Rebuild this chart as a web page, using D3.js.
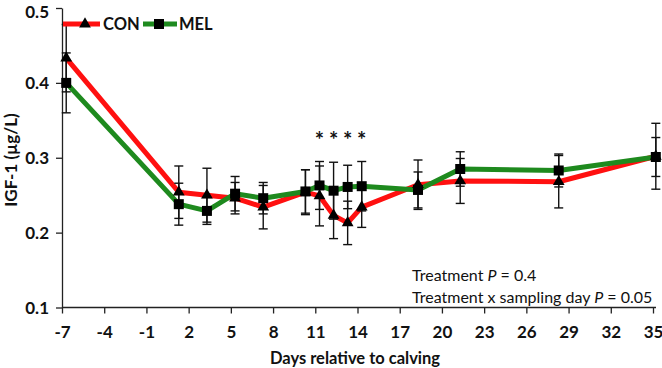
<!DOCTYPE html>
<html>
<head>
<meta charset="utf-8">
<script src="https://cdn.jsdelivr.net/npm/d3@7"></script>
<style>
  body { margin: 0; background: #fff; }
  svg { display: block; }
  text { font-family: Lato, "Open Sans", sans-serif; }
</style>
</head>
<body>
<svg id="chart" width="662" height="368"></svg>
<script>
// ---- data ----
const days     = [-6.7, 1.3, 3.3, 5.3, 7.3, 10.3, 11.3, 12.3, 13.3, 14.3, 18.3, 21.3, 28.3, 35.2];
const conMean  = [0.433, 0.254, 0.250, 0.246, 0.234, 0.254, 0.249, 0.223, 0.213, 0.234, 0.264, 0.269, 0.268, 0.302];
const conErr   = [0.045, 0.035, 0.036, 0.021, 0.029, 0.030, 0.040, 0.031, 0.029, 0.027, 0.033, 0.030, 0.035, 0.044];
const melMean  = [0.400, 0.238, 0.229, 0.252, 0.246, 0.255, 0.263, 0.256, 0.261, 0.262, 0.257, 0.285, 0.283, 0.301];
const melErr   = [0.040, 0.028, 0.018, 0.023, 0.021, 0.029, 0.032, 0.038, 0.029, 0.033, 0.024, 0.023, 0.022, 0.026];
const xTicks   = [-7, -4, -1, 2, 5, 8, 11, 14, 17, 20, 23, 26, 29, 32, 35];
const yTicks   = [0.1, 0.2, 0.3, 0.4, 0.5];
const starDays = [11.3, 12.3, 13.3, 14.3];
const seriesNames = ["CON", "MEL"];

const svg = d3.select("#chart");
const x = d3.scaleLinear().domain([-7, 35]).range([62, 653]);
const y = d3.scaleLinear().domain([0.1, 0.5]).range([307.5, 8]);

const RED = "#ff1010", GREEN = "#1e8a1e";

// axes
const xAxis = svg.append("g").attr("transform", "translate(0,307.5)")
  .call(d3.axisBottom(x).tickValues(xTicks).tickFormat(d => String(d)).tickSize(6).tickSizeOuter(0));
xAxis.select(".domain").attr("d", `M${x(-7)},0H656`);
const yAxis = svg.append("g").attr("transform", "translate(62,0)")
  .call(d3.axisLeft(y).tickValues(yTicks).tickFormat(d3.format(".1f")).tickSize(6).tickSizeOuter(0));
[xAxis, yAxis].forEach(g => {
  g.selectAll(".domain, .tick line").attr("stroke", "#222").attr("stroke-width", 1.3);
  g.selectAll(".tick text").attr("font-family", "Lato, sans-serif").attr("font-weight", "bold")
    .attr("font-size", 17).attr("fill", "#111");
});
xAxis.selectAll(".tick text").attr("y", 18).attr("dy", "0.75em");
yAxis.selectAll(".tick text").attr("x", -13).attr("dy", d => d === 0.5 ? "0.55em" : "0.35em");

// axis titles
svg.append("text").attr("x", 355).attr("y", 364).attr("text-anchor", "middle")
  .attr("font-weight", "bold").attr("font-size", 16.5).attr("fill", "#111")
  .text("Days relative to calving");
svg.append("text").attr("transform", "translate(17,160) rotate(-90)").attr("text-anchor", "middle")
  .attr("font-weight", "bold").attr("font-size", 17).attr("fill", "#111")
  .text("IGF-1 (µg/L)");

// lines
const mk = (vals) => days.map((d, i) => ({ d, v: vals[i] }));
const con = mk(conMean), mel = mk(melMean);
const line = d3.line().x(p => x(p.d)).y(p => y(p.v));
svg.append("path").datum(con).attr("d", line).attr("fill", "none")
  .attr("stroke", RED).attr("stroke-width", 5).attr("stroke-linejoin", "round");
svg.append("path").datum(mel).attr("d", line).attr("fill", "none")
  .attr("stroke", GREEN).attr("stroke-width", 5).attr("stroke-linejoin", "round");

// error bars
function errorBars(means, errs) {
  const g = svg.append("g").attr("stroke", "#111").attr("stroke-width", 1.4);
  days.forEach((d, i) => {
    const cx = x(d), lo = y(means[i] - errs[i]), hi = y(means[i] + errs[i]);
    g.append("line").attr("x1", cx).attr("x2", cx).attr("y1", lo).attr("y2", hi);
    g.append("line").attr("x1", cx - 4.5).attr("x2", cx + 4.5).attr("y1", lo).attr("y2", lo);
    g.append("line").attr("x1", cx - 4.5).attr("x2", cx + 4.5).attr("y1", hi).attr("y2", hi);
  });
}
errorBars(conMean, conErr);
errorBars(melMean, melErr);

// markers
const tri = d3.symbol().type(d3.symbolTriangle).size(60);
const sq = d3.symbol().type(d3.symbolSquare).size(100);
svg.append("g").selectAll("path").data(con).join("path")
  .attr("d", tri).attr("transform", p => `translate(${x(p.d)},${y(p.v)})`).attr("fill", "#000");
svg.append("g").selectAll("path").data(mel).join("path")
  .attr("d", sq).attr("transform", p => `translate(${x(p.d)},${y(p.v)})`).attr("fill", "#000");

// significance stars
svg.append("g").selectAll("text").data(starDays).join("text")
  .attr("x", d => x(d)).attr("y", 148).attr("text-anchor", "middle")
  .attr("font-weight", "bold").attr("font-size", 22).attr("fill", "#111").text("*");

// legend
const lg = svg.append("g");
lg.append("line").attr("x1", 63).attr("x2", 100).attr("y1", 24).attr("y2", 24)
  .attr("stroke", RED).attr("stroke-width", 5);
lg.append("path").attr("d", tri).attr("transform", "translate(85,24)").attr("fill", "#000");
lg.append("text").attr("x", 103).attr("y", 30).attr("font-weight", "bold").attr("font-size", 16.5)
  .attr("fill", "#111").text(seriesNames[0]);
lg.append("line").attr("x1", 143).attr("x2", 177).attr("y1", 24).attr("y2", 24)
  .attr("stroke", GREEN).attr("stroke-width", 5);
lg.append("path").attr("d", sq).attr("transform", "translate(159,24)").attr("fill", "#000");
lg.append("text").attr("x", 179).attr("y", 30).attr("font-weight", "bold").attr("font-size", 16.5)
  .attr("fill", "#111").text(seriesNames[1]);

// annotation
const t1 = svg.append("text").attr("x", 412).attr("y", 281)
  .attr("font-size", 16).attr("fill", "#111");
t1.append("tspan").text("Treatment ");
t1.append("tspan").attr("font-style", "italic").text("P");
t1.append("tspan").text(" = 0.4");
const t2 = svg.append("text").attr("x", 412).attr("y", 303)
  .attr("font-size", 16).attr("fill", "#111");
t2.append("tspan").text("Treatment x sampling day ");
t2.append("tspan").attr("font-style", "italic").text("P");
t2.append("tspan").text(" = 0.05");
</script>
</body>
</html>
